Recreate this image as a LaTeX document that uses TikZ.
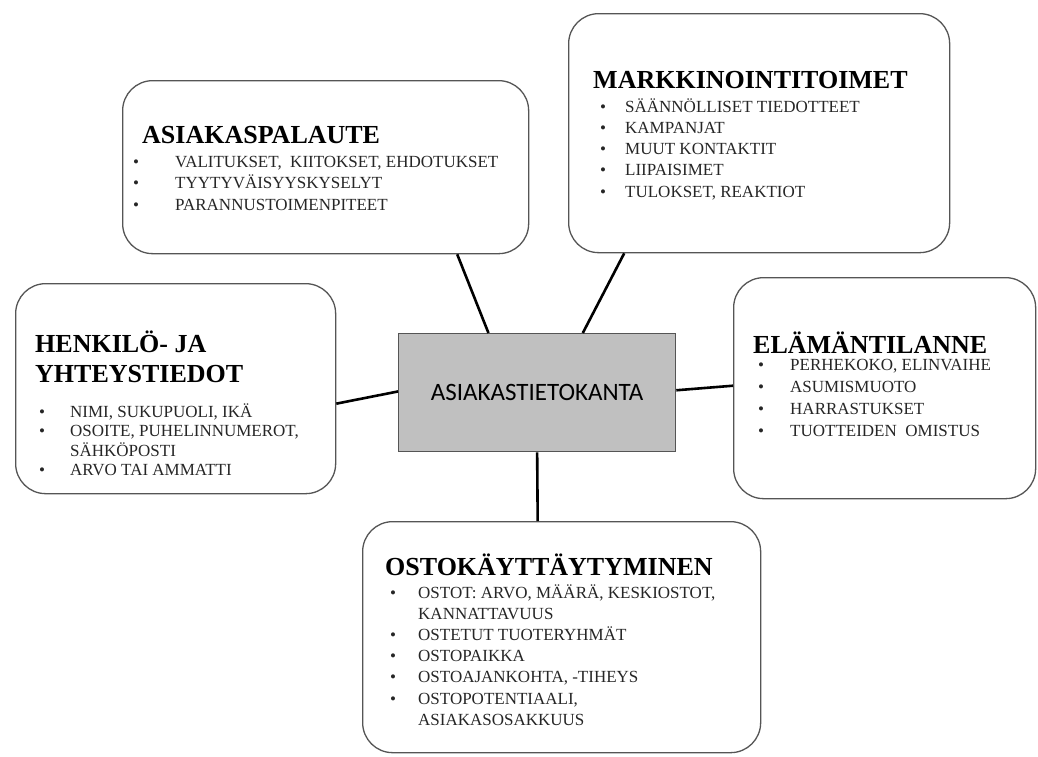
\documentclass[tikz,border=0pt]{standalone}
\usepackage{fontspec}
\setmainfont{Liberation Serif}
\newfontfamily\calib{Carlito}
\usetikzlibrary{calc}
\definecolor{boxgray}{HTML}{555555}
\definecolor{centergray}{HTML}{C0C0C0}
\definecolor{itemcol}{HTML}{262626}
\newcommand\itemrow[1]{\makebox[#1][l]{\textbullet}}
\begin{document}
\begin{tikzpicture}[x=1pt,y=-1pt,
  card/.style={draw=boxgray, line width=1.3pt, rounded corners=30pt, fill=white, anchor=north west, inner sep=0pt},
  ttl/.style={anchor=base west, inner sep=0pt, font=\fontsize{26}{30}\selectfont\bfseries, text=black},
  lst/.style={anchor=base west, inner sep=0pt, text=itemcol},
  link/.style={line width=2.6pt, black}
]
\useasboundingbox (0,0) rectangle (1038,756);

% boxes
\node[card, minimum width=406pt, minimum height=173pt] (fb) at (122,80) {};
\node[card, minimum width=381pt, minimum height=239pt] (mk) at (568,13) {};
\node[card, minimum width=320pt, minimum height=210pt] (hk) at (15,283) {};
\node[card, minimum width=302pt, minimum height=221pt] (el) at (733,277) {};
\node[card, minimum width=398pt, minimum height=231pt] (os) at (362,521) {};
\node[draw=boxgray, fill=centergray, line width=1.3pt, minimum width=277pt, minimum height=118pt,
      anchor=north west, inner sep=0pt, font=\calib\fontsize{25}{30}\selectfont] (db) at (398,333) {ASIAKASTIETOKANTA};

% connectors
\draw[link] ($(db.north west)!0.325!(db.north east)$) -- ($(fb.south west)!0.823!(fb.south east)$);
\draw[link] ($(db.north west)!0.664!(db.north east)$) -- ($(mk.south west)!0.147!(mk.south east)$);
\draw[link] ($(db.north west)!0.49!(db.south west)$) -- ($(hk.north east)!0.571!(hk.south east)$);
\draw[link] ($(db.north east)!0.48!(db.south east)$) -- ($(el.north west)!0.489!(el.south west)$);
\draw[link] (db.south) -- ($(os.north west)!0.44!(os.north east)$);

% ASIAKASPALAUTE
\node[ttl] (fbT) at (142,143) {ASIAKASPALAUTE};
\node[lst, font=\fontsize{17}{21.5}\selectfont] (fbL) at (133,167) {\begin{tabular}[t]{@{}l@{}l@{}}
\itemrow{42pt} & VALITUKSET,\ \ KIITOKSET, EHDOTUKSET\\
\itemrow{42pt} & TYYTYVÄISYYSKYSELYT\\
\itemrow{42pt} & PARANNUSTOIMENPITEET
\end{tabular}};

% MARKKINOINTITOIMET
\node[ttl] (mkT) at (593,88) {MARKKINOINTITOIMET};
\node[lst, font=\fontsize{17}{21.3}\selectfont] (mkL) at (600,112) {\begin{tabular}[t]{@{}l@{}l@{}}
\itemrow{25pt} & SÄÄNNÖLLISET TIEDOTTEET\\
\itemrow{25pt} & KAMPANJAT\\
\itemrow{25pt} & MUUT KONTAKTIT\\
\itemrow{25pt} & LIIPAISIMET\\
\itemrow{25pt} & TULOKSET, REAKTIOT
\end{tabular}};

% HENKILÖ- JA YHTEYSTIEDOT
\node[ttl] (hkT1) at (35,352) {HENKILÖ- JA};
\node[ttl] (hkT2) at (35,382) {YHTEYSTIEDOT};
\node[lst, font=\fontsize{17}{19.5}\selectfont] (hkL) at (39,417) {\begin{tabular}[t]{@{}l@{}l@{}}
\itemrow{31pt} & NIMI, SUKUPUOLI, IKÄ\\
\itemrow{31pt} & OSOITE, PUHELINNUMEROT,\\
 & SÄHKÖPOSTI\\
\itemrow{31pt} & ARVO TAI AMMATTI
\end{tabular}};

% ELÄMÄNTILANNE
\node[ttl] (elT) at (753,353) {ELÄMÄNTILANNE};
\node[lst, font=\fontsize{17}{22}\selectfont] (elL) at (758,370) {\begin{tabular}[t]{@{}l@{}l@{}}
\itemrow{32pt} & PERHEKOKO, ELINVAIHE\\
\itemrow{32pt} & ASUMISMUOTO\\
\itemrow{32pt} & HARRASTUKSET\\
\itemrow{32pt} & TUOTTEIDEN\ \ OMISTUS
\end{tabular}};

% OSTOKÄYTTÄYTYMINEN
\node[ttl] (osT) at (385,575) {OSTOKÄYTTÄYTYMINEN};
\node[lst, font=\fontsize{17}{21.2}\selectfont] (osL) at (390,598) {\begin{tabular}[t]{@{}l@{}l@{}}
\itemrow{28pt} & OSTOT: ARVO, MÄÄRÄ, KESKIOSTOT,\\
 & KANNATTAVUUS\\
\itemrow{28pt} & OSTETUT TUOTERYHMÄT\\
\itemrow{28pt} & OSTOPAIKKA\\
\itemrow{28pt} & OSTOAJANKOHTA, -TIHEYS\\
\itemrow{28pt} & OSTOPOTENTIAALI,\\
 & ASIAKASOSAKKUUS
\end{tabular}};
\end{tikzpicture}
\end{document}
